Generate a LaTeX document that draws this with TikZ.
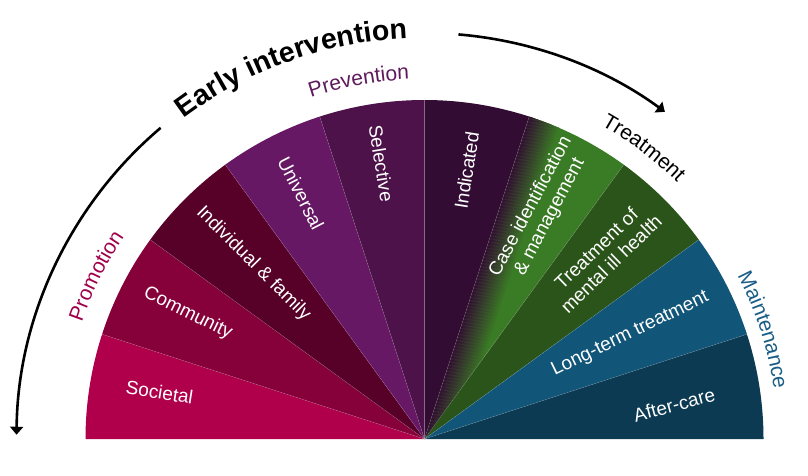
\documentclass[tikz,border=0pt]{standalone}
\usepackage{fontspec}
\setmainfont{Liberation Sans}
\usetikzlibrary{arrows.meta,decorations.text}
\definecolor{cSoc}{HTML}{B0004B}
\definecolor{cCom}{HTML}{86003A}
\definecolor{cInd}{HTML}{570028}
\definecolor{cUni}{HTML}{671864}
\definecolor{cSel}{HTML}{4D1249}
\definecolor{cIdc}{HTML}{320C33}
\definecolor{cCas}{HTML}{3A7C25}
\definecolor{cTrt}{HTML}{2A5419}
\definecolor{cLng}{HTML}{115679}
\definecolor{cAft}{HTML}{0C3A53}
\definecolor{cPrev}{HTML}{5E1A5C}
\definecolor{cProm}{HTML}{A0004A}
\definecolor{cMain}{HTML}{1A5D86}
\begin{document}
\begin{tikzpicture}[x=1pt,y=1pt,
  lbl/.style={text=white, font=\fontsize{19}{21.5}\selectfont, align=center, inner sep=0pt},
  flow/.style={line width=2.6pt, -{Triangle[length=8pt,width=13pt]}},
  sep/.style={white, opacity=0.2, line width=0.5pt}]
\useasboundingbox (0,0) rectangle (808,475);
\coordinate (C) at (424.5,36);
\def\R{339}
% wedges
\foreach \a/\b/\c in {162/180/cSoc, 144/162/cCom, 126/144/cInd, 108/126/cUni, 90/108/cSel, 72/90/cIdc, 54/72/cCas, 36/54/cTrt, 18/36/cLng, 0/18/cAft}
  \fill[\c, shift={(C)}] (0,0) -- (\b:\R) arc[start angle=\b, end angle=\a, radius=\R] -- cycle;
% gradient in case-identification wedge
\begin{scope}
  \clip[shift={(C)}] (0,0) -- (72:\R) arc[start angle=72, end angle=54, radius=\R] -- cycle;
  \begin{scope}[shift={(C)}, rotate=-18]
    \foreach \i in {0,...,31} {
      \pgfmathsetmacro{\p}{100-\i*100/32}
      \fill[cIdc!\p!cCas] (\i-0.1,-5) rectangle (\i+1,400);
    }
  \end{scope}
\end{scope}
% separators
\foreach \a in {18,36,...,162} \draw[sep, shift={(C)}] (0,0) -- (\a:\R);
% wedge labels
\node[lbl, rotate=-9]  (soc) at ([shift={(170:269)}]C) {Societal};
\node[lbl, rotate=-26] (com) at ([shift={(152:268)}]C) {Community};
\node[lbl, rotate=-45] (ind) at ([shift={(134.3:245)}]C) {Individual \& family};
\node[lbl, rotate=-63] (uni) at ([shift={(116.7:275)}]C) {Universal};
\node[lbl, rotate=-81] (sel) at ([shift={(98.9:279)}]C) {Selective};
\node[lbl, rotate=81]  (idc) at ([shift={(81.1:272)}]C) {Indicated};
\node[lbl, rotate=62]  (cas) at ([shift={(63:255)}]C) {Case identification\\\& management};
\node[lbl, rotate=44]  (trt) at ([shift={(45.6:256)}]C) {Treatment of\\mental ill health};
\node[lbl, rotate=26]  (lng) at ([shift={(27:231)}]C) {Long-term treatment};
\node[lbl, rotate=15]  (aft) at ([shift={(7.8:252)}]C) {After-care};
% arrows
\coordinate (la) at ([shift={(130.3:408)}]C);
\coordinate (ra) at ([shift={(85.2:406)}]C);
\draw[flow] (la) arc[start angle=130.3, end angle=179.4, radius=408];
\draw[flow] (ra) arc[start angle=85.2, end angle=53.7, radius=406];
% curved titles
\path[shift={(C)}, decorate, decoration={text along path, text align=center,
  text={|\fontsize{28.5}{30}\selectfont\bfseries|Early intervention}}]
  (135:401) arc[start angle=135, end angle=84.3, radius=401];
\path[shift={(C)}, decorate, decoration={text along path, text align=center,
  text={|\color{cPrev}\fontsize{21}{23}\selectfont|Prevention}}]
  (115:360) arc[start angle=115, end angle=85.8, radius=360];
\path[shift={(C)}, decorate, decoration={text along path, text align=center,
  text={|\fontsize{21}{23}\selectfont|Treatment}}]
  (68:360) arc[start angle=68, end angle=38, radius=360];
\path[shift={(C)}, decorate, decoration={text along path, text align=center,
  text={|\color{cProm}\fontsize{21}{23}\selectfont|Promotion}}]
  (170:362) arc[start angle=170, end angle=137.2, radius=362];
\path[shift={(C)}, decorate, decoration={text along path, text align=center,
  text={|\color{cMain}\fontsize{21}{23}\selectfont|Maintenance}}]
  (34:353) arc[start angle=34, end angle=1.7, radius=353];
\end{tikzpicture}
\end{document}
